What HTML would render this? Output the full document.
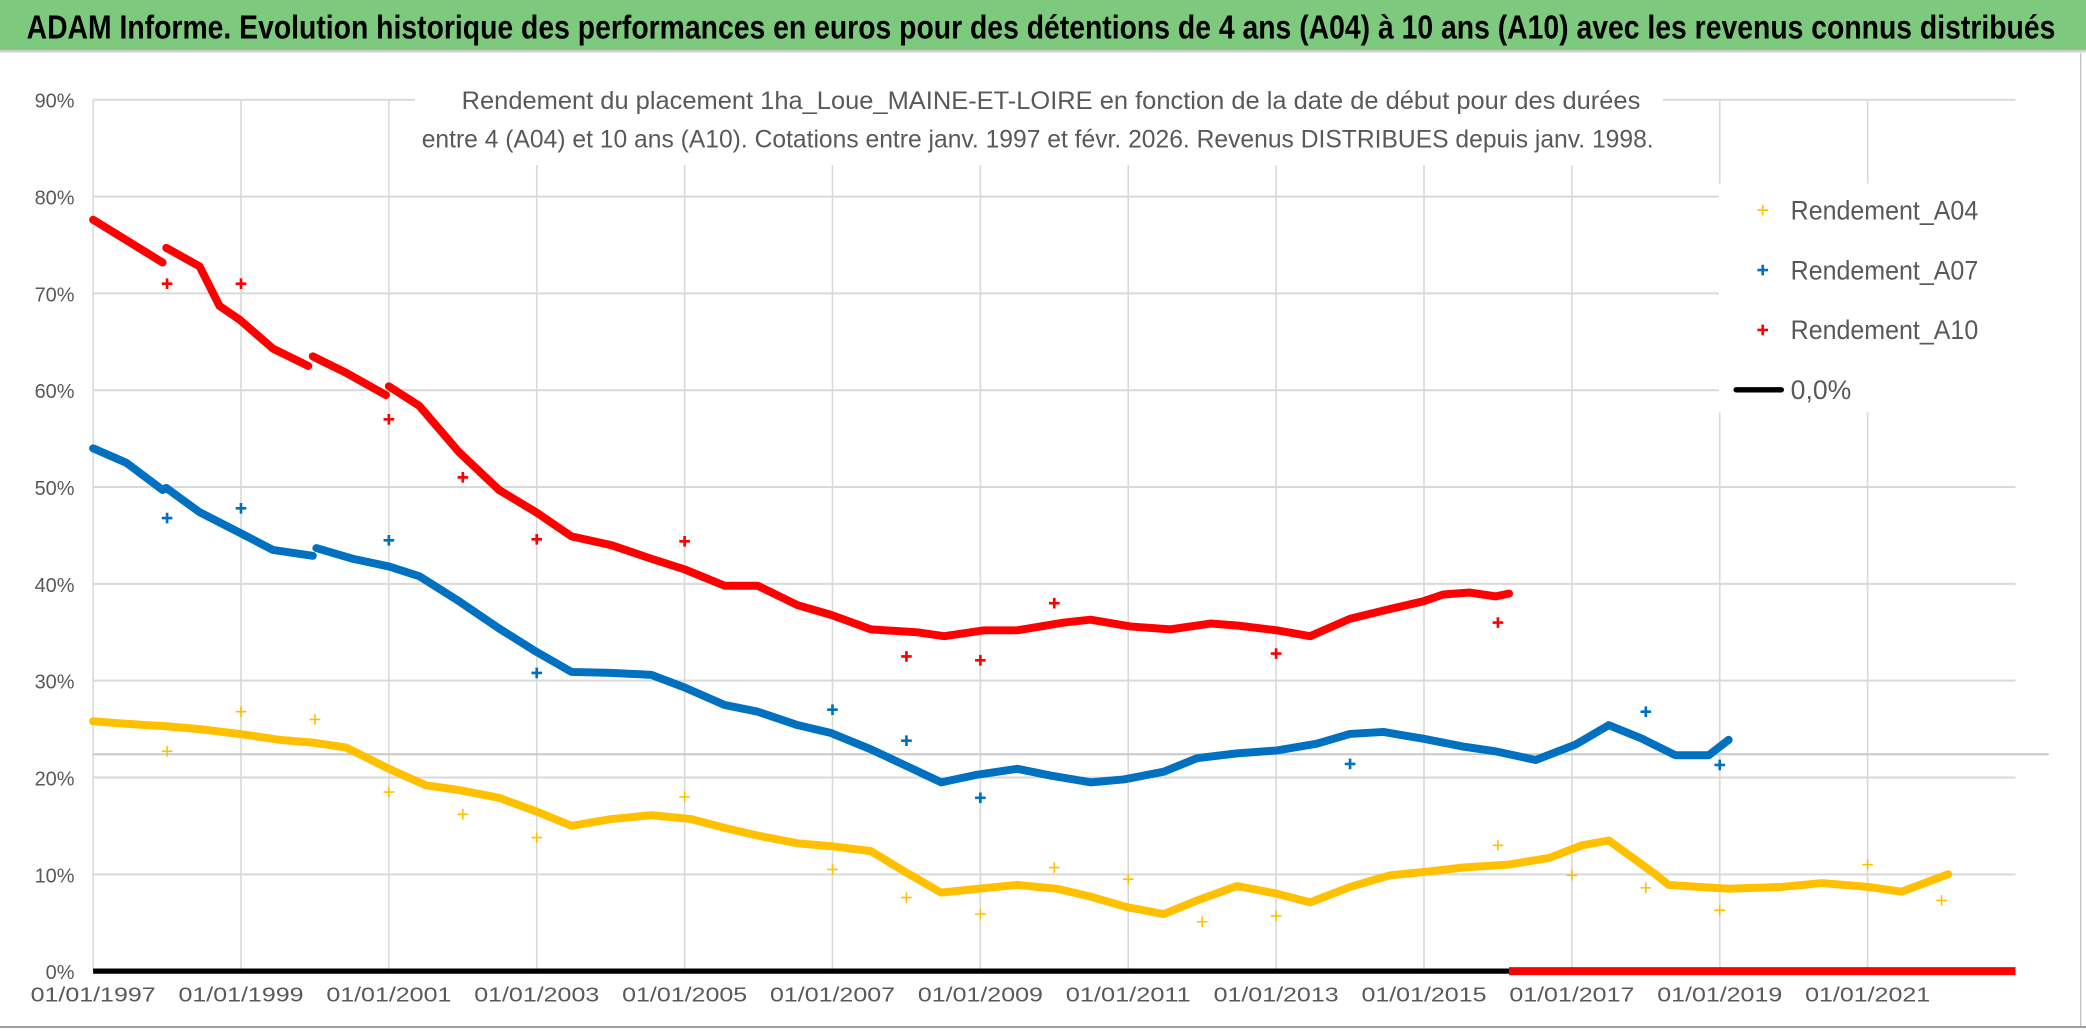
<!DOCTYPE html>
<html><head><meta charset="utf-8"><style>
html,body{margin:0;padding:0;background:#fff;}
svg{display:block;font-family:"Liberation Sans",sans-serif;}
</style></head><body>
<svg id="chart" width="2086" height="1031" viewBox="0 0 1568 775" preserveAspectRatio="none" xmlns="http://www.w3.org/2000/svg">
<rect x="0" y="0" width="1568" height="775" fill="#fff"/>
<rect x="0" y="0" width="1568" height="38" fill="#7DC97D"/>
<line x1="0" y1="38.5" x2="1568" y2="38.5" stroke="#d0d0d0" stroke-width="2"/>
<text x="20" y="29" font-size="25" font-weight="bold" fill="#000" textLength="1525" lengthAdjust="spacingAndGlyphs">ADAM Informe. Evolution historique des performances en euros pour des détentions de 4 ans (A04) à 10 ans (A10) avec les revenus connus distribués</text>
<line x1="1564" y1="40" x2="1564" y2="772" stroke="#bfbfbf" stroke-width="1"/>
<line x1="0" y1="772" x2="1568" y2="772" stroke="#a0a0a0" stroke-width="1.5"/>
<g id="grid"></g>
<rect x="312" y="58" width="938" height="66" fill="#fff"/>
<text x="347" y="82" font-size="19" fill="#595959" textLength="886" lengthAdjust="spacingAndGlyphs">Rendement du placement 1ha_Loue_MAINE-ET-LOIRE en fonction de la date de début pour des durées</text>
<text x="317" y="111" font-size="19" fill="#595959" textLength="926" lengthAdjust="spacingAndGlyphs">entre 4 (A04) et 10 ans (A10). Cotations entre janv. 1997 et févr. 2026. Revenus DISTRIBUES depuis janv. 1998.</text>
<g id="axes"></g>
<g id="series"></g>
<g>
<rect x="1292" y="138" width="228" height="172" fill="#fff"/>
<g><path d="M1321 158h8M1325 154v8" stroke="#FFC000" stroke-width="1.2"/><text x="1346" y="165" font-size="20" fill="#595959" textLength="141" lengthAdjust="spacingAndGlyphs">Rendement_A04</text></g>
<g><path d="M1321 203h8M1325 199v8" stroke="#0070C0" stroke-width="2"/><text x="1346" y="210" font-size="20" fill="#595959" textLength="141" lengthAdjust="spacingAndGlyphs">Rendement_A07</text></g>
<g><path d="M1321 248h8M1325 244v8" stroke="#FF0000" stroke-width="2"/><text x="1346" y="255" font-size="20" fill="#595959" textLength="141" lengthAdjust="spacingAndGlyphs">Rendement_A10</text></g>
<g><line x1="1305" y1="293" x2="1339" y2="293" stroke="#000" stroke-width="4" stroke-linecap="round"/><text x="1346" y="300" font-size="20" fill="#595959">0,0%</text></g>
</g>
</svg>
<script>
const yTicks = [0,10,20,30,40,50,60,70,80,90];
const xTicks = [1997,1999,2001,2003,2005,2007,2009,2011,2013,2015,2017,2019,2021];
const xTickLabels = ["01/01/1997","01/01/1999","01/01/2001","01/01/2003","01/01/2005","01/01/2007","01/01/2009","01/01/2011","01/01/2013","01/01/2015","01/01/2017","01/01/2019","01/01/2021"];
const xDomain = [1997, 2023];
const yDomain = [0, 90];
// Rendement_A10 (null = break)
const a10Years = [1997.0,1997.94,null,1997.99,1998.44,1998.71,1998.98,1999.43,1999.91,null,1999.97,2000.42,2000.96,null,2001.0,2001.41,2001.95,2002.49,2002.99,2003.47,2004.01,2004.55,2005.0,2005.54,2005.99,2006.53,2006.98,2007.52,2008.15,2008.51,2009.05,2009.5,2010.13,2010.49,2011.03,2011.57,2012.11,2012.47,2013.01,2013.46,2014.0,2014.54,2014.99,2015.26,2015.62,2015.97,2016.15];
const a10Values = [77.6,73.2,null,74.7,72.8,68.7,67.3,64.3,62.5,null,63.5,61.8,59.5,null,60.4,58.4,53.6,49.7,47.4,44.9,44.0,42.6,41.5,39.8,39.8,37.8,36.8,35.3,35.0,34.6,35.2,35.2,36.0,36.3,35.6,35.3,35.9,35.7,35.2,34.6,36.4,37.4,38.2,38.9,39.1,38.7,39.0];
const a10OutYears = [1998.0,1999.0,2001.0,2002.0,2003.0,2005.0,2008.0,2009.0,2010.0,2013.0,2016.0];
const a10OutValues = [71.0,71.0,57.0,51.0,44.6,44.4,32.5,32.1,38.0,32.8,36.0];
// Rendement_A07
const a07Years = [1997.0,1997.45,1997.94,1997.99,1998.44,1998.98,1999.43,1999.97,null,2000.02,2000.51,2001.0,2001.41,2001.95,2002.49,2002.99,2003.47,2004.01,2004.55,2005.0,2005.54,2005.99,2006.53,2006.98,2007.52,2007.97,2008.47,2008.96,2009.5,2009.95,2010.49,2010.94,2011.48,2011.93,2012.47,2013.01,2013.55,2014.0,2014.45,2014.99,2015.53,2015.97,2016.51,2017.05,2017.5,2017.95,2018.4,2018.85,2019.12];
const a07Values = [54.0,52.5,49.7,49.9,47.4,45.3,43.5,42.9,null,43.7,42.6,41.8,40.8,38.2,35.4,33.0,30.9,30.8,30.6,29.3,27.5,26.8,25.4,24.6,22.9,21.3,19.5,20.3,20.9,20.2,19.5,19.8,20.6,22.0,22.5,22.8,23.5,24.5,24.7,24.0,23.2,22.7,21.8,23.4,25.4,24.0,22.3,22.3,23.9];
const a07OutYears = [1998.0,1999.0,2001.0,2003.0,2007.0,2008.0,2009.0,2014.0,2018.0,2019.0];
const a07OutValues = [46.8,47.8,44.5,30.8,27.0,23.8,17.9,21.4,26.8,21.3];
// Rendement_A04
const a04Years = [1997.0,1997.72,1997.99,1998.44,1998.98,1999.52,1999.97,2000.42,2001.0,2001.5,2001.95,2002.49,2002.99,2003.47,2004.01,2004.55,2005.09,2005.54,2005.99,2006.53,2006.98,2007.52,2007.97,2008.47,2008.96,2009.5,2010.04,2010.49,2010.99,2011.48,2011.93,2012.47,2013.01,2013.46,2014.0,2014.54,2015.08,2015.53,2016.15,2016.69,2017.14,2017.5,2018.13,2018.31,2019.12,2019.84,2020.38,2021.01,2021.46,2022.09];
const a04Values = [25.8,25.4,25.3,25.0,24.5,23.9,23.6,23.1,20.9,19.2,18.7,17.9,16.5,15.0,15.7,16.1,15.7,14.8,14.0,13.2,12.9,12.4,10.3,8.1,8.5,8.9,8.5,7.7,6.6,5.9,7.3,8.8,8.0,7.1,8.7,9.9,10.3,10.7,11.0,11.7,13.0,13.5,10.0,8.9,8.5,8.7,9.1,8.7,8.2,10.0];
const a04OutYears = [1998.0,1999.0,2000.0,2001.0,2002.0,2003.0,2005.0,2007.0,2008.0,2009.0,2010.0,2011.0,2012.0,2013.0,2016.0,2017.0,2018.0,2019.0,2021.0,2022.0];
const a04OutValues = [22.7,26.8,26.0,18.5,16.2,13.8,18.0,10.5,7.6,5.9,10.7,9.5,5.1,5.7,13.0,9.9,8.6,6.3,11.0,7.3];
const zeroBlackEnd = 2016.15;
const refLineValue = 22.4;

const PL=70, PR=1515, PT=75, PB=730;
const NS="http://www.w3.org/2000/svg";
function sx(v){return PL+(v-xDomain[0])/(xDomain[1]-xDomain[0])*(PR-PL);}
function sy(v){return PB-(v-yDomain[0])/(yDomain[1]-yDomain[0])*(PB-PT);}
function mk(tag,attrs,parent){const e=document.createElementNS(NS,tag);for(const k in attrs)e.setAttribute(k,attrs[k]);parent.appendChild(e);return e;}
const grid=document.getElementById('grid'), axes=document.getElementById('axes'), series=document.getElementById('series');
yTicks.forEach((t,i)=>{
  if(t>0){const l=mk('line',{x1:PL,x2:PR,y1:sy(t),y2:sy(t),stroke:'#d9d9d9','stroke-width':1.5},grid);
  
  }
  const tx=mk('text',{x:56,y:sy(t)+6,'text-anchor':'end','font-size':15,fill:'#595959'},axes);
  tx.textContent=t+'%';
  
  
});
xTicks.forEach((t,i)=>{
  const l=mk('line',{x1:sx(t),x2:sx(t),y1:PT,y2:PB,stroke:'#d9d9d9','stroke-width':1.2},grid);
  
  
  const tx=mk('text',{x:sx(t),y:753,'text-anchor':'middle','font-size':15,fill:'#595959',textLength:94,lengthAdjust:'spacingAndGlyphs'},axes);
  tx.textContent=xTickLabels[i];
  
  
});
const rl=mk('line',{x1:PL,x2:1540,y1:sy(refLineValue),y2:sy(refLineValue),stroke:'#c8c8c8','stroke-width':1.5},grid);



function drawLine(xs,ys,color,name){
  let d='',start=true;
  for(let i=0;i<xs.length;i++){
    if(xs[i]===null){start=true;continue;}
    d+=(start?'M':'L')+sx(xs[i]).toFixed(1)+' '+sy(ys[i]).toFixed(1)+' ';start=false;
  }
  const p=mk('path',{d:d,fill:'none',stroke:color,'stroke-width':6,'stroke-linejoin':'round','stroke-linecap':'round'},series);
  
  
}
function drawOut(xs,ys,color,name,w){
  xs.forEach((x,i)=>{
    const X=sx(x),Y=sy(ys[i]);
    const p=mk('path',{d:`M${X-4} ${Y}h8M${X} ${Y-4}v8`,stroke:color,'stroke-width':w},series);
    
    
  });
}
drawLine(a04Years,a04Values,'#FFC000','series-a04-line');
drawLine(a07Years,a07Values,'#0070C0','series-a07-line');
drawLine(a10Years,a10Values,'#FF0000','series-a10-line');
drawOut(a04OutYears,a04OutValues,'#FFC000','a04-outlier',1.2);
drawOut(a07OutYears,a07OutValues,'#0070C0','a07-outlier',2);
drawOut(a10OutYears,a10OutValues,'#FF0000','a10-outlier',2);
const z1=mk('line',{x1:sx(xDomain[0]),x2:sx(zeroBlackEnd),y1:sy(0),y2:sy(0),stroke:'#000','stroke-width':4},series);


const z2=mk('line',{x1:sx(zeroBlackEnd),x2:sx(xDomain[1]),y1:sy(0),y2:sy(0),stroke:'#FF0000','stroke-width':6},series);


</script>
</body></html>
